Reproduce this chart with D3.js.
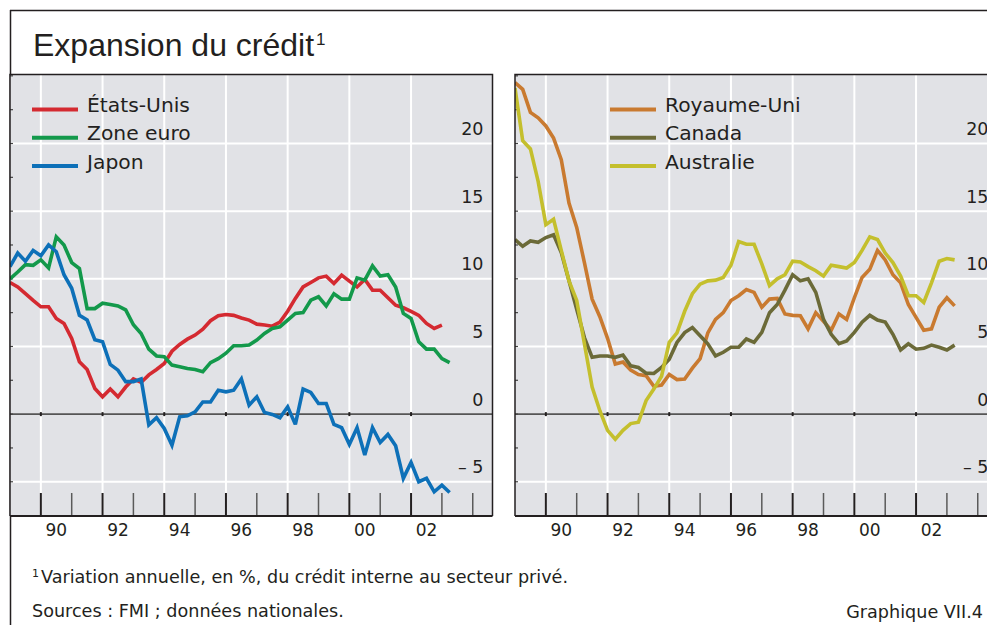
<!DOCTYPE html>
<html>
<head>
<meta charset="utf-8">
<script src="https://cdn.jsdelivr.net/npm/d3@7"></script>
<style>
  html, body { margin: 0; padding: 0; background: #ffffff; }
  svg { display: block; }
</style>
</head>
<body>
<svg id="chart" width="987" height="625"></svg>
<script>
// ---------- DATA (quarterly, first observation 1989 Q1) ----------
const startYear = 1989;
const yearTicks = [1990, 1991, 1992, 1993, 1994, 1995, 1996, 1997, 1998, 1999, 2000, 2001, 2002, 2003, 2004];
const yearLabels = ["90", "92", "94", "96", "98", "00", "02"];
const valueTicks = [-5, 0, 5, 10, 15, 20];
const valueTickLabels = ["\u2013 5", "0", "5", "10", "15", "20"];

const leftNames = ["États-Unis", "Zone euro", "Japon"];
const rightNames = ["Royaume-Uni", "Canada", "Australie"];

const etatsUnis = [9.73, 9.4, 8.9, 8.4, 7.93, 7.93, 7.07, 6.7, 5.6, 3.87,
  3.3, 1.9, 1.28, 1.85, 1.28, 2.0, 2.6, 2.34, 2.9, 3.3,
  3.74, 4.65, 5.15, 5.54, 5.84, 6.28, 6.9, 7.27, 7.36, 7.3,
  7.1, 6.95, 6.65, 6.58, 6.5, 6.8, 7.6, 8.55, 9.4, 9.73,
  10.07, 10.2, 9.65, 10.27, 9.83, 9.4, 9.95, 9.16, 9.16, 8.6,
  8.05, 7.86, 7.6, 7.3, 6.7, 6.33, 6.58];
const zoneEuro = [10.0, 10.5, 11.05, 11.0, 11.4, 10.8, 13.1, 12.5, 11.2, 10.76,
  7.8, 7.8, 8.2, 8.1, 8.0, 7.7, 6.6, 5.96, 4.8, 4.3,
  4.24, 3.62, 3.5, 3.37, 3.3, 3.13, 3.8, 4.1, 4.5, 5.05,
  5.05, 5.1, 5.47, 5.96, 6.33, 6.45, 6.95, 7.44, 7.5, 8.42,
  8.67, 8.0, 8.9, 8.5, 8.5, 10.07, 9.9, 10.96, 10.2, 10.3,
  9.4, 7.44, 7.07, 5.34, 4.8, 4.8, 4.1, 3.8];
const japon = [10.9, 11.9, 11.3, 12.1, 11.7, 12.5, 12.0, 10.3, 9.3, 7.3,
  6.95, 5.5, 5.35, 3.67, 3.25, 2.4, 2.4, 2.6, -0.8, -0.27,
  -1.06, -2.3, -0.2, -0.12, 0.17, 0.9, 0.9, 1.77, 1.65, 1.77,
  2.6, 0.66, 1.28, 0.12, -0.02, -0.27, 0.54, -0.76, 1.85, 1.6,
  0.79, 0.79, -0.76, -1.0, -2.24, -1.0, -3.03, -1.0, -2.1, -1.5,
  -2.34, -4.75, -3.57, -5.0, -4.75, -5.74, -5.25, -5.79];

const royaumeUni = [24.5, 24.0, 22.3, 21.9, 21.3, 20.4, 18.8, 15.6, 13.8, 11.2,
  8.5, 7.2, 5.6, 3.7, 3.85, 3.25, 2.93, 2.84, 2.05, 2.15,
  2.93, 2.55, 2.6, 3.4, 4.1, 6.0, 7.0, 7.5, 8.4, 8.75,
  9.2, 9.0, 7.9, 8.5, 8.55, 7.4, 7.3, 7.27, 6.3, 7.5,
  6.85, 6.2, 7.4, 7.0, 8.6, 10.1, 10.7, 12.1, 11.4, 10.3,
  9.7, 8.1, 7.15, 6.2, 6.3, 7.9, 8.6, 8.0];
const canada = [12.9, 12.4, 12.8, 12.7, 13.05, 13.25, 11.95, 9.85, 7.75, 5.66,
  4.2, 4.3, 4.3, 4.2, 4.36, 3.57, 3.45, 3.03, 3.0, 3.45,
  4.06, 5.3, 6.03, 6.4, 5.8, 5.2, 4.3, 4.57, 4.94, 4.94,
  5.55, 5.3, 6.04, 7.5, 8.1, 9.16, 10.3, 9.85, 10.0, 9.0,
  7.0, 5.9, 5.2, 5.4, 6.04, 6.8, 7.3, 6.95, 6.8, 5.9,
  4.74, 5.2, 4.8, 4.86, 5.1, 4.94, 4.74, 5.1];
const australie = [24.1, 20.2, 19.6, 17.2, 14.0, 14.4, 12.1, 9.85, 8.4, 5.2,
  2.0, 0.25, -1.2, -1.85, -1.2, -0.7, -0.6, 1.0, 1.85, 2.8,
  5.3, 6.0, 7.6, 8.9, 9.6, 9.85, 9.9, 10.1, 11.0, 12.75,
  12.55, 12.55, 11.1, 9.5, 10.0, 10.3, 11.3, 11.25, 10.9, 10.6,
  10.2, 11.0, 10.9, 10.8, 11.2, 12.1, 13.1, 12.9, 11.9, 11.2,
  10.2, 8.75, 8.75, 8.25, 9.7, 11.3, 11.5, 11.4];

const leftColors = ["#d42a31", "#13994b", "#0d70b8"];
const rightColors = ["#c97a30", "#6b6a38", "#c4bf2d"];

// ---------- LAYOUT ----------
const svg = d3.select("#chart");
const FONT = "'DejaVu Sans', sans-serif";
const INK = "#231f20";
const PANEL_BG = "#e1e2e6";
const pTop = 74.5, pBottom = 516, panelW = 482.5;
const panels = [
  { x0: 10, names: leftNames, series: [etatsUnis, zoneEuro, japon], colors: leftColors, legX: 32 },
  { x0: 515, names: rightNames, series: [royaumeUni, canada, australie], colors: rightColors, legX: 610 }
];

const y = d3.scaleLinear().domain([-7.53, 25.1]).range([pBottom, pTop]);

// title frame
svg.append("line").attr("x1", 10).attr("x2", 987).attr("y1", 10.5).attr("y2", 10.5)
  .attr("stroke", INK).attr("stroke-width", 1.5);
svg.append("line").attr("x1", 10.5).attr("x2", 10.5).attr("y1", 10).attr("y2", 625)
  .attr("stroke", INK).attr("stroke-width", 1.5);

const title = svg.append("text").attr("x", 33).attr("y", 56)
  .attr("font-family", "'Liberation Sans', Arial, sans-serif").attr("font-size", 32)
  .attr("fill", INK).text("Expansion du crédit");
title.append("tspan").attr("font-size", 17).attr("dy", -11).attr("dx", 2).text("1");

panels.forEach((p, pi) => {
  const x = d3.scaleLinear().domain([startYear, 2004.64]).range([p.x0, p.x0 + panelW]);
  const g = svg.append("g");
  const clipId = "clip" + pi;
  svg.append("clipPath").attr("id", clipId).append("rect")
    .attr("x", p.x0).attr("y", pTop).attr("width", panelW).attr("height", pBottom - pTop);

  g.append("rect").attr("x", p.x0).attr("y", pTop).attr("width", panelW).attr("height", pBottom - pTop)
    .attr("fill", PANEL_BG);

  const gridYears = yearTicks.filter(t => t % 2 === 0 && t <= 2002);
  g.selectAll(".vg").data(gridYears).enter().append("line")
    .attr("x1", d => x(d)).attr("x2", d => x(d)).attr("y1", pTop).attr("y2", pBottom)
    .attr("stroke", "#ffffff").attr("stroke-width", 2);

  g.selectAll(".hg").data(valueTicks.filter(v => v !== 0)).enter().append("line")
    .attr("x1", p.x0).attr("x2", p.x0 + panelW).attr("y1", d => y(d)).attr("y2", d => y(d))
    .attr("stroke", "#ffffff").attr("stroke-width", 2);

  g.append("line").attr("x1", p.x0).attr("x2", p.x0 + panelW).attr("y1", y(0)).attr("y2", y(0))
    .attr("stroke", "#555555").attr("stroke-width", 1.6);
  g.selectAll(".zt").data(gridYears).enter().append("line")
    .attr("x1", d => x(d)).attr("x2", d => x(d)).attr("y1", y(0) - 2).attr("y2", y(0) + 2)
    .attr("stroke", INK).attr("stroke-width", 2);

  const lt = d3.range(-5, 25.01, 2.5);
  g.selectAll(".lt").data(lt).enter().append("line")
    .attr("x1", p.x0).attr("x2", p.x0 + 3).attr("y1", d => y(d)).attr("y2", d => y(d))
    .attr("stroke", "#444").attr("stroke-width", 1.2);

  g.selectAll(".yl").data(valueTicks).enter().append("text")
    .attr("x", p.x0 + panelW - 9).attr("y", d => y(d) - 8.5)
    .attr("text-anchor", "end").attr("font-family", FONT).attr("font-size", 17.5)
    .attr("fill", INK).text((d, i) => valueTickLabels[i]);

  const line = d3.line().x((d, i) => x(startYear + i / 4)).y(d => y(d));
  const lg = g.append("g").attr("clip-path", `url(#${clipId})`);
  p.series.forEach((s, si) => {
    lg.append("path").datum(s).attr("d", line).attr("fill", "none")
      .attr("stroke", p.colors[si]).attr("stroke-width", 3.6)
      .attr("stroke-linejoin", "miter").attr("stroke-miterlimit", 3);
  });

  g.selectAll(".bt").data(yearTicks).enter().append("line")
    .attr("x1", d => x(d)).attr("x2", d => x(d)).attr("y1", pBottom - 23).attr("y2", pBottom)
    .attr("stroke", d => (d % 2 === 0 && d <= 2002) ? INK : "#5a5a5a")
    .attr("stroke-width", d => (d % 2 === 0 && d <= 2002) ? 2 : 1.5);

  g.selectAll(".xl").data(yearLabels).enter().append("text")
    .attr("x", (d, i) => x(1990 + 2 * i + 0.5)).attr("y", 536)
    .attr("text-anchor", "middle").attr("font-family", FONT).attr("font-size", 17)
    .attr("fill", INK).text(d => d);

  g.append("path")
    .attr("d", `M${p.x0},${pBottom}V${pTop}H${p.x0 + panelW}V${pBottom}`)
    .attr("fill", "none").attr("stroke", INK).attr("stroke-width", 1.5);
  g.append("line").attr("x1", p.x0).attr("x2", p.x0 + panelW).attr("y1", pBottom).attr("y2", pBottom)
    .attr("stroke", INK).attr("stroke-width", 2);

  p.names.forEach((n, ni) => {
    const ly = 109.5 + ni * 28.3;
    g.append("line").attr("x1", p.legX).attr("x2", p.legX + 46).attr("y1", ly).attr("y2", ly)
      .attr("stroke", p.colors[ni]).attr("stroke-width", 4);
    g.append("text").attr("x", p.legX + 55).attr("y", ly + 2.5)
      .attr("font-family", FONT).attr("font-size", 20.3).attr("fill", INK).text(n);
  });
});

const fn = svg.append("text").attr("x", 32).attr("y", 583)
  .attr("font-family", FONT).attr("font-size", 17.6).attr("fill", INK);
fn.append("tspan").attr("font-size", 11).attr("dy", -6).text("1");
fn.append("tspan").attr("dy", 6).attr("dx", 2).text("Variation annuelle, en %, du crédit interne au secteur privé.");

svg.append("text").attr("x", 32).attr("y", 617)
  .attr("font-family", FONT).attr("font-size", 17.6).attr("fill", INK)
  .text("Sources : FMI ; données nationales.");
svg.append("text").attr("x", 983).attr("y", 618).attr("text-anchor", "end")
  .attr("font-family", FONT).attr("font-size", 17.6).attr("fill", INK)
  .text("Graphique VII.4");
</script>
</body>
</html>
